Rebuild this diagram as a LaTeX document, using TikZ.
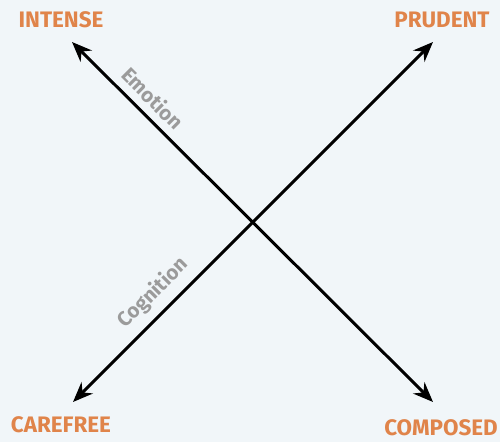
\documentclass[tikz,border=0pt]{standalone}
\usepackage{fontspec}
\setmainfont{Fira Sans}
\usepackage{xcolor}
\usepackage{tikz}
\usetikzlibrary{arrows.meta, positioning, calc}

\definecolor{bgblue}{HTML}{F1F6F9}
\definecolor{traitorange}{HTML}{E0844A}
\definecolor{axisgray}{HTML}{9B9B9B}

\begin{document}
\begin{tikzpicture}[%
    x=1bp, y=-1bp,      % pixel-like units
    axis/.style={line width=3bp, {Stealth[length=20bp, width=16bp]}-{Stealth[length=20bp, width=16bp]}},
    trait/.style={font=\fontsize{22.5}{22.5}\selectfont\bfseries, text=traitorange, inner sep=0pt},
    axislabel/.style={font=\fontsize{20.5}{20.5}\selectfont\bfseries, text=axisgray, inner sep=0pt}
]

    % ==========================================
    % 1. Canvas
    % ==========================================
    \fill[bgblue] (0,0) rectangle (500,442);
    \useasboundingbox (0,0) rectangle (500,442);

    % ==========================================
    % 2. Corner words
    % ==========================================
    \node[trait] (intense)  at (61,20)  {INTENSE};
    \node[trait] (prudent)  at (442,20) {PRUDENT};
    \node[trait] (carefree) at (61,425) {CAREFREE};
    \node[trait] (composed) at (441,428) {COMPOSED};

    % ==========================================
    % 3. Arrow ends
    % ==========================================
    \coordinate (tl) at (72,42);
    \coordinate (tr) at (433,42);
    \coordinate (bl) at (73,402);
    \coordinate (br) at (433,402);

    % ==========================================
    % 4. Axes
    % ==========================================
    \draw[axis] (tl) -- (br);
    \draw[axis] (bl) -- (tr);

    % axis names
    \node[axislabel, rotate=-45] (emotion)   at (153,98)  {Emotion};
    \node[axislabel, rotate=45]  (cognition) at (153,293) {Cognition};

\end{tikzpicture}
\end{document}
